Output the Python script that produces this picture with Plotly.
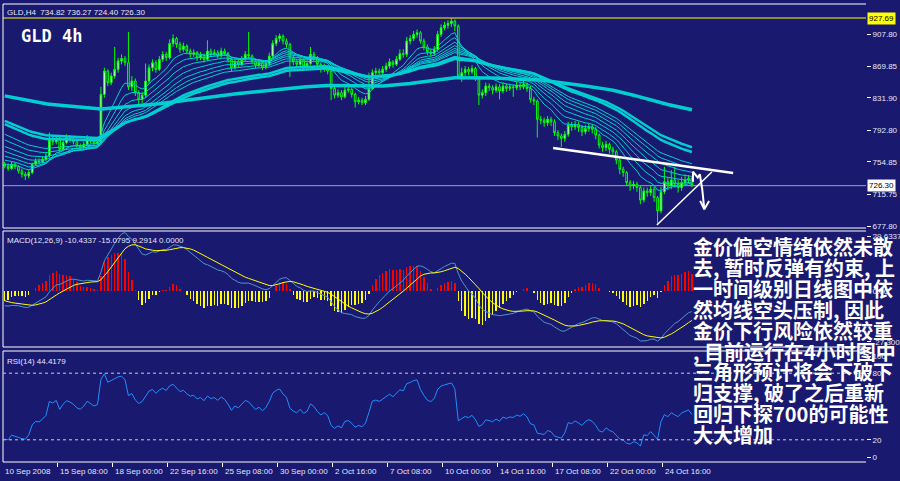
import plotly.graph_objects as go

# ---------------- data ----------------
time_labels = ["10 Sep 2008", "15 Sep 08:00", "18 Sep 00:00", "22 Sep 16:00", "25 Sep 08:00",
               "30 Sep 00:00", "2 Oct 16:00", "7 Oct 08:00", "10 Oct 00:00", "14 Oct 16:00",
               "17 Oct 08:00", "22 Oct 00:00", "24 Oct 16:00"]
time_label_bars = [0, 16, 32, 48, 64, 80, 96, 112, 128, 144, 160, 176, 192]

open_first = 752.0
close = [750, 747, 752, 749, 744, 740, 738, 742, 752, 756,
         755, 758, 762, 781, 779, 783, 770, 778, 784, 782,
         779, 774, 772, 776, 783, 780, 777, 779, 836, 864,
         850, 858, 866, 876, 879, 874, 845, 852, 838, 830,
         835, 852, 868, 874, 866, 878, 884, 880, 897, 903,
         896, 890, 894, 888, 884, 886, 880, 883, 878, 888,
         884, 886, 882, 888, 885, 878, 868, 875, 872, 878,
         884, 882, 876, 871, 874, 869, 873, 882, 897, 903,
         906, 900, 896, 880, 875, 872, 877, 870, 873, 884,
         880, 872, 866, 869, 864, 843, 835, 838, 833, 841,
         842, 836, 827, 829, 826, 830, 843, 862, 864, 862,
         866, 870, 875, 872, 878, 885, 884, 900, 903, 908,
         910, 900, 893, 887, 885, 890, 908, 916, 919, 921,
         924, 918, 858, 862, 866, 863, 867, 856, 835, 838,
         846, 844, 841, 845, 840, 846, 843, 845, 844, 847,
         845, 848, 843, 830, 828, 806, 805, 802, 806, 803,
         790, 786, 783, 788, 799, 797, 800, 796, 791, 795,
         797, 794, 787, 775, 772, 776, 770, 767, 757, 746,
         742, 730, 726, 728, 724, 709, 720, 718, 722, 712,
         696, 719, 731, 726, 733, 728, 724, 730, 733, 734.82,
         726.30]
high = [755, 753, 755, 754, 751, 747, 743, 745, 754, 759,
        759, 761, 765, 790, 785, 787, 785, 781, 788, 787,
        784, 781, 777, 779, 787, 785, 782, 782, 845, 868,
        866, 862, 893, 880, 884, 882, 911, 858, 855, 841,
        839, 873, 872, 878, 877, 882, 888, 887, 902, 908,
        905, 899, 898, 896, 891, 890, 888, 887, 885, 901,
        891, 890, 889, 892, 891, 887, 880, 879, 878, 882,
        888, 911, 884, 879, 878, 876, 877, 886, 901, 907,
        909, 908, 903, 898, 883, 878, 881, 879, 877, 893,
        887, 882, 874, 873, 871, 866, 846, 842, 841, 845,
        846, 844, 838, 833, 832, 834, 862, 866, 868, 867,
        870, 874, 879, 877, 882, 890, 890, 905, 907, 912,
        914, 912, 903, 896, 891, 894, 912, 920, 923, 925,
        927.69, 926, 920, 868, 870, 869, 871, 869, 858, 842,
        850, 849, 847, 849, 848, 850, 849, 849, 848, 851,
        850, 852, 850, 846, 833, 830, 810, 808, 810, 809,
        806, 793, 789, 792, 803, 803, 804, 803, 799, 799,
        801, 800, 797, 789, 779, 780, 778, 773, 769, 759,
        749, 744, 733, 732, 731, 727, 724, 724, 727, 725,
        714, 725, 749, 736, 745, 749, 733, 737, 740, 739,
        736.27]
low = [747, 744, 745, 746, 741, 736, 733, 735, 740, 750,
       752, 753, 756, 760, 775, 776, 766, 768, 776, 778,
       776, 771, 769, 770, 774, 777, 774, 775, 776, 832,
       846, 847, 855, 862, 872, 870, 841, 840, 834, 824,
       825, 832, 849, 864, 862, 864, 875, 876, 878, 893,
       892, 886, 887, 884, 880, 881, 876, 877, 874, 876,
       881, 882, 879, 880, 882, 874, 864, 866, 868, 870,
       876, 879, 872, 867, 868, 865, 866, 870, 880, 894,
       899, 896, 892, 857, 871, 868, 869, 866, 867, 871,
       876, 868, 862, 863, 860, 829, 831, 832, 829, 831,
       838, 832, 820, 824, 823, 823, 828, 841, 859, 858,
       859, 863, 867, 868, 870, 876, 880, 881, 896, 900,
       904, 897, 889, 883, 881, 882, 887, 905, 913, 915,
       917, 912, 855, 851, 858, 859, 860, 852, 823, 831,
       834, 840, 836, 838, 830, 837, 839, 840, 833, 841,
       841, 842, 839, 826, 823, 784, 800, 797, 798, 798,
       786, 781, 773, 779, 785, 792, 793, 791, 786, 788,
       791, 789, 782, 771, 767, 768, 765, 762, 752, 740,
       737, 726, 720, 722, 719, 704, 706, 713, 714, 707,
       681, 693, 716, 721, 722, 724, 718, 720, 727, 729,
       724.40]

header_ohlc = ["734.82", "736.27", "724.40", "726.30"]
price_ticks = [907.80, 869.85, 831.90, 792.80, 754.85, 715.75, 677.80]
hline_level = 927.69
bid_level = 726.30

thin_periods = [10, 15, 20, 25, 30, 35, 40]
thin_seeds = [753, 758, 763, 769, 775, 783, 790]
pair_periods = [55, 62]
pair_seeds = [802, 806]
slow_period = 200
slow_seed = 835

macd_fast_seed, macd_slow_seed, macd_signal_seed = 757.0, 764.0, -4.0
macd_label_vals = ["-10.4337", "-15.0795", "9.2914", "0.0000"]
macd_axis = [29.6337, 0.0, -27.3001]
rsi_prev_close, rsi_gain_seed, rsi_loss_seed = 752.0, 1.6, 6.0
rsi_label_val = "44.4179"

trend_upper_x, trend_upper_y = [159.6, 212.0], [771.5, 741.5]
trend_lower_x, trend_lower_y = [189.8, 205.8], [679.0, 742.7]
arrow_x = [200.3, 200.3, 201.7, 202.3, 203.0, 203.6]
arrow_y = [731.0, 743.0, 736.0, 740.0, 722.0, 698.0]
arrowhead_x = [202.4, 203.6, 205.0]
arrowhead_y = [708.0, 698.0, 708.0]

note_lines = ["金价偏空情绪依然未散", "去, 暂时反弹有约束, 上", "一时间级别日线图中依",
              "然均线空头压制, 因此", "金价下行风险依然较重", ", 目前运行在4小时图中",
              "三角形预计将会下破下", "归支撑, 破了之后重新", "回归下探700的可能性", "大大增加"]

# ---------------- indicators ----------------
def ema(values, period, seed):
    a = 2.0 / (period + 1)
    out, prev = [], seed
    for v in values:
        prev = prev + a * (v - prev)
        out.append(prev)
    return out

def rsi(values, period, prev_close, ag, al):
    out, p = [], prev_close
    for v in values:
        ch = v - p
        ag = (ag * (period - 1) + max(ch, 0)) / period
        al = (al * (period - 1) + max(-ch, 0)) / period
        out.append(100 - 100 / (1 + ag / al) if al > 0 else 100)
        p = v
    return out

n = len(close)
bars = list(range(n))
opens = [open_first] + close[:-1]

ema_fast = ema(close, 12, macd_fast_seed)
ema_slow = ema(close, 26, macd_slow_seed)
macd = [f - s for f, s in zip(ema_fast, ema_slow)]
signal = ema(macd, 9, macd_signal_seed)
hist = [2 * (m - s) for m, s in zip(macd, signal)]
rsi_vals = rsi(close, 14, rsi_prev_close, rsi_gain_seed, rsi_loss_seed)

# ---------------- layout constants ----------------
W, H = 900, 481
BG = "#191970"
CYAN = "#00CED1"
TXT = "#e6e6f5"
FONT = "Liberation Sans, Arial, sans-serif"
FS = 8

def py(px):
    return 1 - px / H

def pxf(px):
    return px / W

X0, X1 = 3, 866
xdom = [pxf(X0), pxf(X1)]
bar_px = 3.436
xrange_ = [-0.5, -0.5 + (X1 - X0) / bar_px]

main_top, main_bot = 4, 228
macd_top, macd_bot = 231, 347
rsi_top, rsi_bot = 351, 462
main_range = [927.69 - (main_bot - 18) / 0.8325, 927.69 + (18 - main_top) / 0.8325]

fig = go.Figure()

fig.add_trace(go.Candlestick(
    x=bars, open=opens, high=high, low=low, close=close,
    increasing=dict(line=dict(color="#00ff00", width=1), fillcolor="#ffffff"),
    decreasing=dict(line=dict(color="#00ff00", width=1), fillcolor=BG),
    whiskerwidth=0, xaxis="x", yaxis="y", showlegend=False, hoverinfo="skip"))

for p, s in zip(thin_periods, thin_seeds):
    fig.add_trace(go.Scatter(x=bars, y=ema(close, p, s), mode="lines",
                             line=dict(color=CYAN, width=1), xaxis="x", yaxis="y",
                             showlegend=False, hoverinfo="skip"))
for p, s in zip(pair_periods, pair_seeds):
    fig.add_trace(go.Scatter(x=bars, y=ema(close, p, s), mode="lines",
                             line=dict(color=CYAN, width=2.5), xaxis="x", yaxis="y",
                             showlegend=False, hoverinfo="skip"))
fig.add_trace(go.Scatter(x=bars, y=ema(close, slow_period, slow_seed), mode="lines",
                         line=dict(color=CYAN, width=3.5), xaxis="x", yaxis="y",
                         showlegend=False, hoverinfo="skip"))

for xs, ys, w in [(trend_upper_x, trend_upper_y, 2.5), (trend_lower_x, trend_lower_y, 1.5),
                  (arrow_x, arrow_y, 2), (arrowhead_x, arrowhead_y, 2)]:
    fig.add_trace(go.Scatter(x=xs, y=ys, mode="lines", line=dict(color="white", width=w),
                             xaxis="x", yaxis="y", showlegend=False, hoverinfo="skip"))

# MACD
fig.add_trace(go.Bar(x=bars, y=hist, width=0.42,
                     marker=dict(color=["#ff0000" if h >= 0 else "#ffff00" for h in hist], line_width=0),
                     xaxis="x2", yaxis="y2", showlegend=False, hoverinfo="skip"))
fig.add_trace(go.Scatter(x=bars, y=macd, mode="lines", line=dict(color="#4f94cd", width=1),
                         xaxis="x2", yaxis="y2", showlegend=False, hoverinfo="skip"))
fig.add_trace(go.Scatter(x=bars, y=signal, mode="lines", line=dict(color="#ffff00", width=1),
                         xaxis="x2", yaxis="y2", showlegend=False, hoverinfo="skip"))

# RSI
fig.add_trace(go.Scatter(x=bars, y=rsi_vals, mode="lines", line=dict(color="#1e90ff", width=1),
                         xaxis="x3", yaxis="y3", showlegend=False, hoverinfo="skip"))

axis_common = dict(showgrid=False, zeroline=False, showline=False, fixedrange=True, automargin=False)
tickfont = dict(family=FONT, size=FS, color=TXT)
fig.update_layout(
    width=W, height=H, margin=dict(l=0, r=0, t=0, b=0, pad=0, autoexpand=False),
    paper_bgcolor=BG, plot_bgcolor=BG, bargap=0, showlegend=False,
    xaxis=dict(domain=xdom, range=xrange_, anchor="y", showticklabels=False,
               rangeslider=dict(visible=False), **axis_common),
    xaxis2=dict(domain=xdom, range=xrange_, anchor="y2", matches="x", showticklabels=False, **axis_common),
    xaxis3=dict(domain=xdom, range=xrange_, anchor="y3", matches="x", showticklabels=False,
                ticks="outside", ticklen=4, tickcolor="white", tickwidth=1,
                tickvals=[b - 0.5 for b in time_label_bars[1:]], **axis_common),
    yaxis=dict(domain=[py(main_bot), py(main_top)], range=main_range, anchor="x", side="right",
               ticks="outside", ticklen=4, tickcolor="white", tickvals=price_ticks,
               ticktext=[f"{v:.2f}" for v in price_ticks], tickfont=tickfont, **axis_common),
    yaxis2=dict(domain=[py(macd_bot), py(macd_top)], range=[macd_axis[2], macd_axis[0]], anchor="x2",
                side="right", ticks="outside", ticklen=4, tickcolor="white",
                tickvals=[macd_axis[0] - 2.5, 0, macd_axis[2] + 2.5],
                ticktext=["29.6337", "0.00", "-27.3001"], tickfont=tickfont, **axis_common),
    yaxis3=dict(domain=[py(rsi_bot), py(rsi_top)], range=[0, 100], anchor="x3", side="right",
                ticks="outside", ticklen=4, tickcolor="white",
                tickvals=[95.5, 80, 20, 4.5], ticktext=["100", "80", "20", "0"],
                tickfont=tickfont, **axis_common),
)

shapes = []
for yy in [main_top, main_bot, macd_top, macd_bot, rsi_top, rsi_bot]:
    shapes.append(dict(type="line", xref="paper", yref="paper", x0=pxf(X0), x1=pxf(X1),
                       y0=py(yy), y1=py(yy), line=dict(color="white", width=1)))
for a, b in [(main_top, main_bot), (macd_top, macd_bot), (rsi_top, rsi_bot)]:
    shapes.append(dict(type="line", xref="paper", yref="paper", x0=pxf(X0), x1=pxf(X0),
                       y0=py(a), y1=py(b), line=dict(color="white", width=1)))
shapes.append(dict(type="line", xref="x domain", yref="y", x0=0, x1=1, y0=hline_level, y1=hline_level,
                   line=dict(color="#ffff00", width=1)))
shapes.append(dict(type="line", xref="x domain", yref="y", x0=0, x1=1, y0=bid_level, y1=bid_level,
                   line=dict(color="#a0a0b4", width=1), layer="below"))
for lv in [80, 20]:
    shapes.append(dict(type="line", xref="x3 domain", yref="y3", x0=0, x1=1, y0=lv, y1=lv,
                       line=dict(color="#d0d0b8", width=1, dash="3px,3px")))
fig.update_layout(shapes=shapes)

def label(x, y, text, **kw):
    d = dict(xref="paper", yref="paper", x=pxf(x), y=py(y), xanchor="left", yanchor="middle",
             text=text, showarrow=False, align="left", borderpad=0,
             font=dict(family=FONT, size=FS, color=TXT))
    d.update(kw)
    return d

ann = []
ann.append(label(6, 12.5, "GLD,H4  " + " ".join(header_ohlc)))
ann.append(label(20, 36, "<b>GLD 4h</b>", font=dict(family="DejaVu Sans Mono", size=17, color="white")))
ann.append(label(6, 240.5, "MACD(12,26,9) " + " ".join(macd_label_vals)))
ann.append(label(6, 361, "RSI(14) " + rsi_label_val))
ann.append(dict(xref="paper", yref="y", x=pxf(867), y=hline_level, xanchor="left", yanchor="middle",
                text=f"{hline_level:.2f}", showarrow=False, bgcolor="#ffff00", borderpad=1,
                font=dict(family=FONT, size=FS, color="black")))
ann.append(dict(xref="paper", yref="y", x=pxf(867), y=bid_level, xanchor="left", yanchor="middle",
                text=f"{bid_level:.2f}", showarrow=False, bgcolor="white", borderpad=1,
                font=dict(family=FONT, size=FS, color="black")))
for b, t in zip(time_label_bars, time_labels):
    ann.append(dict(xref="x3", yref="paper", x=b - 0.5, y=py(471), xanchor="left", yanchor="middle",
                    text=t, showarrow=False, xshift=1, borderpad=0, align="left",
                    font=dict(family=FONT, size=FS, color=TXT)))
for k, line in enumerate(note_lines):
    ann.append(label(692, 246.5 + 20.9 * k, f"<b>{line}</b>",
                     font=dict(family="Noto Sans CJK SC", size=20, color="white")))
fig.update_layout(annotations=ann)

fig.write_html("out.html", config={"displayModeBar": False, "staticPlot": True},
               post_script="document.body.style.margin='0';document.body.style.overflow='hidden';")
